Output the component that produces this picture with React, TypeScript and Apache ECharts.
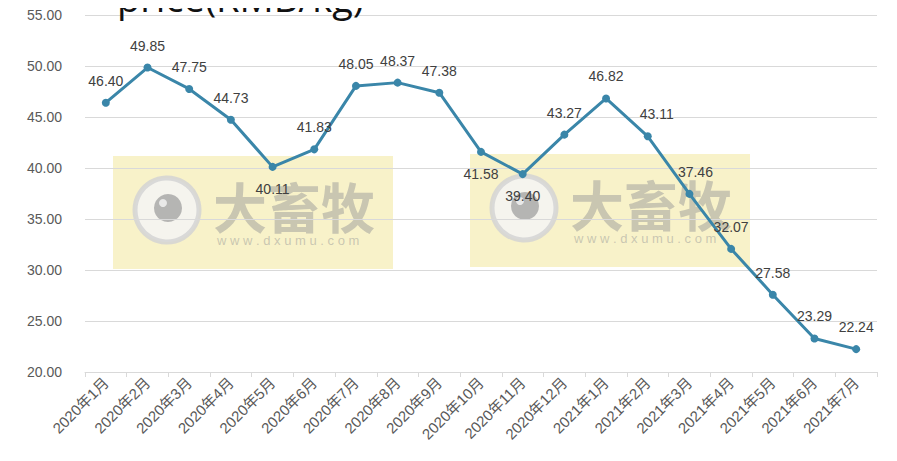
import React, { useEffect, useRef } from "react";
import * as echarts from "echarts";

const categories = [
  "2020年1月", "2020年2月", "2020年3月", "2020年4月", "2020年5月", "2020年6月",
  "2020年7月", "2020年8月", "2020年9月", "2020年10月", "2020年11月", "2020年12月",
  "2021年1月", "2021年2月", "2021年3月", "2021年4月", "2021年5月", "2021年6月", "2021年7月",
];
const prices = [
  46.4, 49.85, 47.75, 44.73, 40.11, 41.83, 48.05, 48.37, 47.38, 41.58,
  39.4, 43.27, 46.82, 43.11, 37.46, 32.07, 27.58, 23.29, 22.24,
];
const belowLabelIdx = [4, 9, 10];
const titleText = "price(RMB/kg)";
const watermarkName = "大畜牧";
const watermarkUrl = "www.dxumu.com";

const LINE = "#3a86a9";

function watermark(x: number, y: number) {
  const op = 0.5;
  return {
    type: "group",
    x,
    y,
    z: 100,
    silent: true,
    children: [
      { type: "rect", shape: { x: 0, y: 0, width: 280, height: 113 }, style: { fill: "#ecdc70", opacity: 0.38 } },
      { type: "circle", shape: { cx: 54, cy: 54, r: 32 }, style: { fill: "#f4f4f4", stroke: "#d4d4d4", lineWidth: 5, opacity: 0.85 } },
      { type: "circle", shape: { cx: 55, cy: 52, r: 14 }, style: { fill: "#9a9a9a", opacity: 0.7 } },
      { type: "circle", shape: { cx: 50, cy: 47, r: 4 }, style: { fill: "#ffffff", opacity: 0.7 } },
      {
        type: "text",
        x: 100,
        y: 49,
        style: {
          text: watermarkName,
          font: "bold 54px 'Noto Sans CJK SC'",
          fill: "#9a9a9a",
          opacity: op,
          verticalAlign: "middle",
        },
      },
      {
        type: "text",
        x: 104,
        y: 84,
        style: {
          text: watermarkUrl.split("").join(" "),
          font: "13px 'Liberation Sans'",
          fill: "#9a9a9a",
          opacity: op,
          verticalAlign: "middle",
        },
      },
    ],
  };
}

export default function App() {
  const ref = useRef<HTMLDivElement>(null);
  useEffect(() => {
    if (!ref.current) return;
    const chart = echarts.init(ref.current, null, { renderer: "svg" });
    const data = prices.map((v, i) => {
      const item: any = { value: v };
      if (belowLabelIdx.includes(i)) {
        item.label = { position: "bottom" };
      }
      if (i === 13) item.label = { offset: [9, 0] };
      if (i === 14) item.label = { offset: [6, 0] };
      return item;
    });
    chart.setOption({
      animation: false,
      backgroundColor: "#ffffff",
      grid: { left: 85, right: 20, top: 15, bottom: 89, containLabel: false },
      xAxis: {
        type: "category",
        data: categories,
        boundaryGap: true,
        axisLine: { lineStyle: { color: "#d9d9d9", width: 1 } },
        axisTick: { show: true, length: 5, lineStyle: { color: "#d9d9d9" } },
        axisLabel: {
          rotate: 45,
          interval: 0,
          color: "#595959",
          fontSize: 15,
          margin: 8,
          fontFamily: "'Liberation Sans', 'Noto Sans CJK SC'",
        },
      },
      yAxis: {
        type: "value",
        min: 20,
        max: 55,
        interval: 5,
        axisLine: { show: false },
        axisTick: { show: false },
        splitLine: { lineStyle: { color: "#d9d9d9", width: 1 } },
        axisLabel: {
          color: "#595959",
          fontSize: 14,
          margin: 23,
          fontFamily: "'Liberation Sans'",
          formatter: (v: number) => v.toFixed(2),
        },
      },
      series: [
        {
          type: "line",
          data,
          symbol: "circle",
          symbolSize: 8,
          lineStyle: { color: LINE, width: 3 },
          itemStyle: { color: LINE },
          label: {
            show: true,
            position: "top",
            distance: 11,
            color: "#404040",
            fontSize: 14,
            fontFamily: "'Liberation Sans'",
            formatter: (p: any) => Number(p.value).toFixed(2),
          },
        },
      ],
      graphic: [
        watermark(113, 156),
        watermark(470, 154),
        {
          type: "text",
          x: 117,
          y: -3,
          z: 110,
          style: {
            text: titleText,
            font: "38px 'Open Sans'",
            fill: "#111111",
            verticalAlign: "middle",
          },
        },
      ],
    });
    return () => chart.dispose();
  }, []);
  return <div ref={ref} style={{ width: 897, height: 461, margin: -8 }} />;
}
